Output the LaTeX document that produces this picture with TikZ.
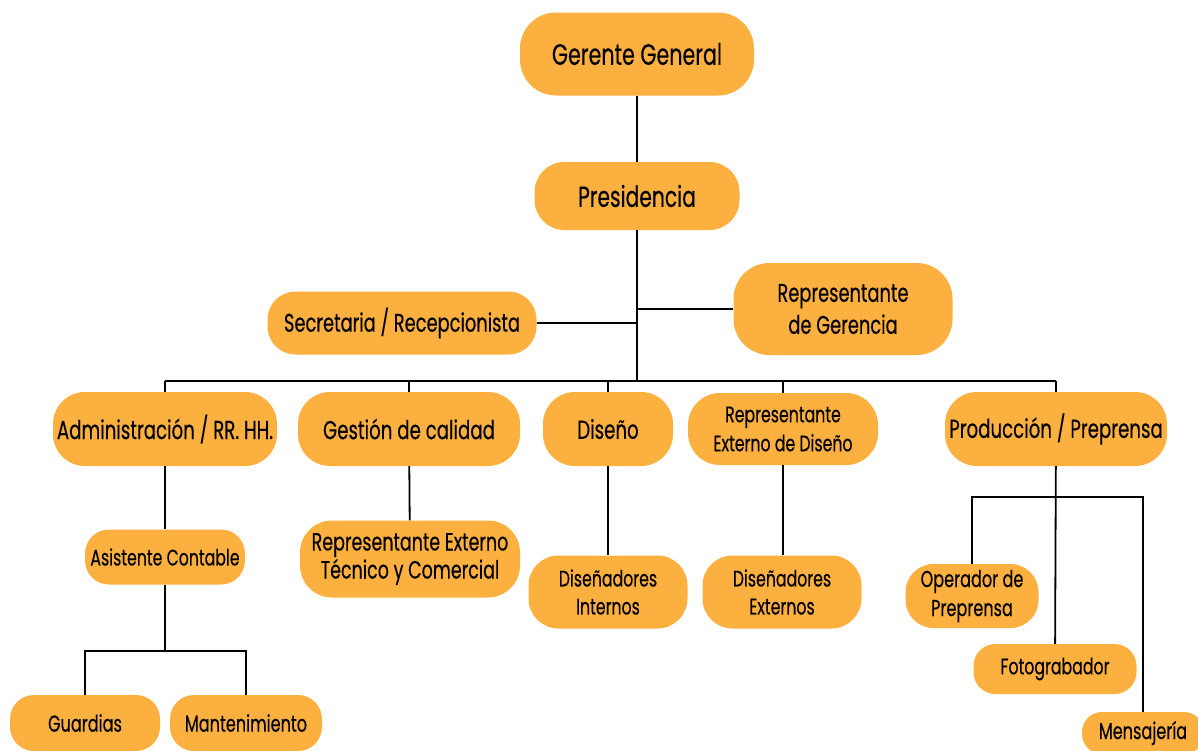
\documentclass[tikz,border=0pt]{standalone}
\usepackage{fontspec}
\setmainfont{Poppins}[FakeStretch=0.70,FakeBold=0.3]
\definecolor{boxorange}{RGB}{252,176,64}
\begin{document}
\begin{tikzpicture}[x=1pt,y=-1pt,
  box/.style={fill=boxorange, inner sep=0pt, align=center, text=black},
  link/.style={draw=black, line width=1.8pt}]
\clip (0,0) rectangle (1198,750);
\fill[white] (0,0) rectangle (1198,750);

% top of the hierarchy
\node[box, minimum width=234pt, minimum height=83pt, rounded corners=36pt, font=\fontsize{29.5}{34}\selectfont] (gg) at (637,54) {Gerente General};
\node[box, minimum width=205pt, minimum height=68pt, rounded corners=30pt, font=\fontsize{29}{32}\selectfont] (pres) at (637,196) {Presidencia};
\node[box, minimum width=269pt, minimum height=63pt, rounded corners=28pt, font=\fontsize{25.5}{28}\selectfont] (sec) at (402,323) {Secretaria / Recepcionista};
\node[box, minimum width=219pt, minimum height=92pt, rounded corners=36pt, font=\fontsize{25.5}{32}\selectfont] (rg) at (843,309) {Representante\\de Gerencia};

% departments
\node[box, minimum width=224pt, minimum height=74pt, rounded corners=32pt, font=\fontsize{26}{28}\selectfont] (adm) at (165,429) {Administración / RR. HH.};
\node[box, minimum width=222pt, minimum height=74pt, rounded corners=32pt, font=\fontsize{26}{28}\selectfont] (cal) at (409,429) {Gestión de calidad};
\node[box, minimum width=130pt, minimum height=74pt, rounded corners=32pt, font=\fontsize{26}{28}\selectfont] (dis) at (608,429) {Diseño};
\node[box, minimum width=190pt, minimum height=72pt, rounded corners=32pt, font=\fontsize{22.5}{29}\selectfont] (red) at (783,429) {Representante\\Externo de Diseño};
\node[box, minimum width=222pt, minimum height=74pt, rounded corners=32pt, font=\fontsize{26}{28}\selectfont] (prod) at (1056,429) {Producción / Preprensa};

% staff
\node[box, minimum width=160pt, minimum height=55pt, rounded corners=24pt, font=\fontsize{22.5}{24}\selectfont] (asis) at (165,557) {Asistente Contable};
\node[box, minimum width=220pt, minimum height=77pt, rounded corners=32pt, font=\fontsize{25}{28}\selectfont] (ret) at (410,559) {Representante Externo\\Técnico y Comercial};
\node[box, minimum width=159pt, minimum height=73pt, rounded corners=30pt, font=\fontsize{22.5}{28}\selectfont] (din) at (608,592) {Diseñadores\\Internos};
\node[box, minimum width=159pt, minimum height=73pt, rounded corners=30pt, font=\fontsize{22.5}{28}\selectfont] (dex) at (782,592) {Diseñadores\\Externos};
\node[box, minimum width=133pt, minimum height=64pt, rounded corners=28pt, font=\fontsize{23}{29}\selectfont] (op) at (972,596) {Operador de\\Preprensa};
\node[box, minimum width=163pt, minimum height=50pt, rounded corners=22pt, font=\fontsize{22.5}{24}\selectfont] (foto) at (1055,669) {Fotograbador};
\node[box, minimum width=122pt, minimum height=42pt, rounded corners=20pt, font=\fontsize{23}{24}\selectfont] (men) at (1143,733) {Mensajería};
\node[box, minimum width=150pt, minimum height=56pt, rounded corners=24pt, font=\fontsize{23}{24}\selectfont] (gua) at (85,723) {Guardias};
\node[box, minimum width=152pt, minimum height=56pt, rounded corners=24pt, font=\fontsize{23}{24}\selectfont] (man) at (246,723) {Mantenimiento};

% bus lines
\coordinate (bus) at (637,381);
\coordinate (busL) at (165,381);
\coordinate (busR) at (1056,381);
\coordinate (pbus) at (1056,497);
\coordinate (abus) at (165,651);

\draw[link] (gg) -- (pres);
\draw[link] (pres) -- (bus);
\draw[link] (sec.east) -- (sec.east -| bus);
\draw[link] (rg.west) -- (rg.west -| bus);
\draw[link] (busL) -- (busR);
\draw[link] (busL) -- (adm);
\draw[link] (cal |- bus) -- (cal);
\draw[link] (dis |- bus) -- (dis);
\draw[link] (red |- bus) -- (red);
\draw[link] (busR) -- (prod);

\draw[link] (cal) -- (ret);
\draw[link] (dis) -- (din);
\draw[link] (red.south) -- (red.south |- dex.north);
\draw[link] (adm) -- (asis);
\draw[link] (asis) -- (abus);
\draw[link] (gua.north) |- (abus) -| (man.north);

\draw[link] (prod) -- (foto);
\draw[link] (op.north) |- (pbus) -| (men.north);
\end{tikzpicture}
\end{document}
